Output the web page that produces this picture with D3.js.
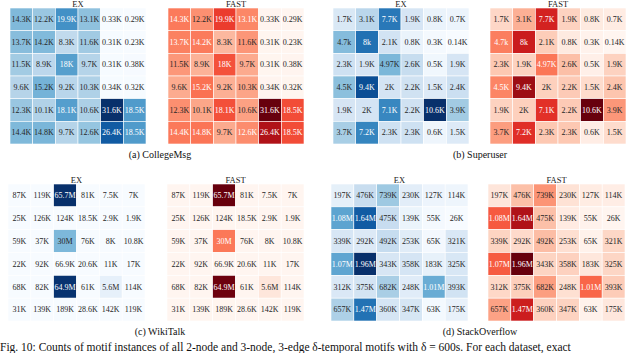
<!DOCTYPE html>
<html>
<head>
<meta charset="utf-8">
<script src="https://cdn.jsdelivr.net/npm/d3@7"></script>
<style>
  body { margin: 0; background: #fff; }
  svg { display: block; font-family: "Liberation Serif", "Times New Roman", serif; }
</style>
</head>
<body>
<div id="chart"></div>
<script>
(function() {

  var width = 640,
  height = 353;

  // cell labels as printed, row by row (EX and FAST show the same counts)
  var collegeMsg = [
    ["14.3K","12.2K","19.9K","13.1K","0.33K","0.29K"],
    ["13.7K","14.2K","8.3K","11.6K","0.31K","0.23K"],
    ["11.5K","8.9K","18K","9.7K","0.31K","0.38K"],
    ["9.6K","15.2K","9.2K","10.3K","0.34K","0.32K"],
    ["12.3K","10.1K","18.1K","10.6K","31.6K","18.5K"],
    ["14.4K","14.8K","9.7K","12.6K","26.4K","18.5K"]
  ];
  var superuser = [
    ["1.7K","3.1K","7.7K","1.9K","0.8K","0.7K"],
    ["4.7k","8k","2.1K","0.8K","0.3K","0.14K"],
    ["2.3K","1.9K","4.97K","2.6K","0.5K","1.9K"],
    ["4.5K","9.4K","2K","2.2K","1.5K","2.4K"],
    ["1.9K","2K","7.1K","2.2K","10.6K","3.9K"],
    ["3.7K","7.2K","2.3K","2.3K","0.6K","1.5K"]
  ];
  var wikiTalk = [
    ["87K","119K","65.7M","81K","7.5K","7K"],
    ["25K","126K","124K","18.5K","2.9K","1.9K"],
    ["59K","37K","30M","76K","8K","10.8K"],
    ["22K","92K","66.9K","20.6K","11K","17K"],
    ["68K","82K","64.9M","61K","5.6M","114K"],
    ["31K","139K","189K","28.6K","142K","119K"]
  ];
  var stackOverflow = [
    ["197K","476K","739K","230K","127K","114K"],
    ["1.08M","1.64M","475K","139K","55K","26K"],
    ["339K","292K","492K","253K","65K","321K"],
    ["1.07M","1.96M","343K","358K","183K","325K"],
    ["312K","375K","682K","248K","1.01M","393K"],
    ["657K","1.47M","360K","347K","63K","175K"]
  ];

  var methods = ["EX", "FAST"];
  var captions = ["(a) CollegeMsg", "(b) Superuser", "(c) WikiTalk", "(d) StackOverflow"];
  var figCaption = "Fig. 10: Counts of motif instances of all 2-node and 3-node, 3-edge \u03b4-temporal motifs with \u03b4 = 600s. For each dataset, exact";

  var datasets = [collegeMsg, superuser, wikiTalk, stackOverflow];

  // where each panel sits
  var panels = [
    {ex: 10, fast: 168, top: 8, size: 136, capX: 160, capY: 158},
    {ex: 333, fast: 490, top: 8, size: 136, capX: 480, capY: 158},
    {ex: 8, fast: 167, top: 184, size: 137, capX: 160, capY: 335},
    {ex: 331, fast: 488, top: 184, size: 137, capX: 480, capY: 335}
  ];

  function parseLabel(s) {
    var u = s.slice(-1).toUpperCase();
    var n = parseFloat(s);
    if (u === "K") return n * 1e3;
    if (u === "M") return n * 1e6;
    return n;
  }

  // seaborn style: light text on dark cells
  function textColor(c) {
    var rgb = d3.rgb(c);
    var lin = [rgb.r, rgb.g, rgb.b].map(function(v) {
      v = v / 255;
      return v <= 0.03928 ? v / 12.92 : Math.pow((v + 0.055) / 1.055, 2.4);
    });
    var lum = 0.2126 * lin[0] + 0.7152 * lin[1] + 0.0722 * lin[2];
    return lum > 0.408 ? "#262626" : "#ffffff";
  }

  var svg = d3.select("#chart").append("svg")
      .attr("width", width)
      .attr("height", height);

  var idx = d3.range(6);

  datasets.forEach(function(rows, di) {
    var p = panels[di];
    var cells = [];
    rows.forEach(function(r, i) {
      r.forEach(function(lab, j) {
        cells.push({row: i, col: j, label: lab, value: parseLabel(lab)});
      });
    });
    var ext = d3.extent(cells, function(d) { return d.value; });

    methods.forEach(function(m) {
      var left = m === "EX" ? p.ex : p.fast;
      var x = d3.scaleBand().domain(idx).range([left, left + p.size]);
      var y = d3.scaleBand().domain(idx).range([p.top, p.top + p.size]);
      var color = d3.scaleSequential(m === "EX" ? d3.interpolateBlues : d3.interpolateReds)
          .domain(ext);

      var g = svg.append("g").attr("class", "heat");

      g.append("text")
          .attr("x", left + p.size / 2)
          .attr("y", p.top - 1.5)
          .attr("text-anchor", "middle")
          .style("font-size", "8.5px")
          .attr("fill", "#222")
          .text(m);

      var cg = g.selectAll("g.cell")
          .data(cells)
        .enter().append("g")
          .attr("class", "cell");

      cg.append("rect")
          .attr("x", function(d) { return x(d.col); })
          .attr("y", function(d) { return y(d.row); })
          .attr("width", x.bandwidth())
          .attr("height", y.bandwidth())
          .attr("fill", function(d) { return color(d.value); })
          .attr("stroke", "#fff")
          .attr("stroke-width", 0.6);

      cg.append("text")
          .attr("x", function(d) { return x(d.col) + x.bandwidth() / 2; })
          .attr("y", function(d) { return y(d.row) + y.bandwidth() / 2; })
          .attr("dy", "0.35em")
          .attr("text-anchor", "middle")
          .style("font-size", "8px")
          .attr("fill", function(d) { return textColor(color(d.value)); })
          .text(function(d) { return d.label; });
    });

    svg.append("text")
        .attr("x", p.capX)
        .attr("y", p.capY)
        .attr("text-anchor", "middle")
        .style("font-size", "10px")
        .attr("fill", "#111")
        .text(captions[di]);
  });

  svg.append("text")
      .attr("x", 0)
      .attr("y", 351)
      .style("font-size", "11.5px")
      .attr("fill", "#111")
      .text(figCaption);

})();
</script>
</body>
</html>
